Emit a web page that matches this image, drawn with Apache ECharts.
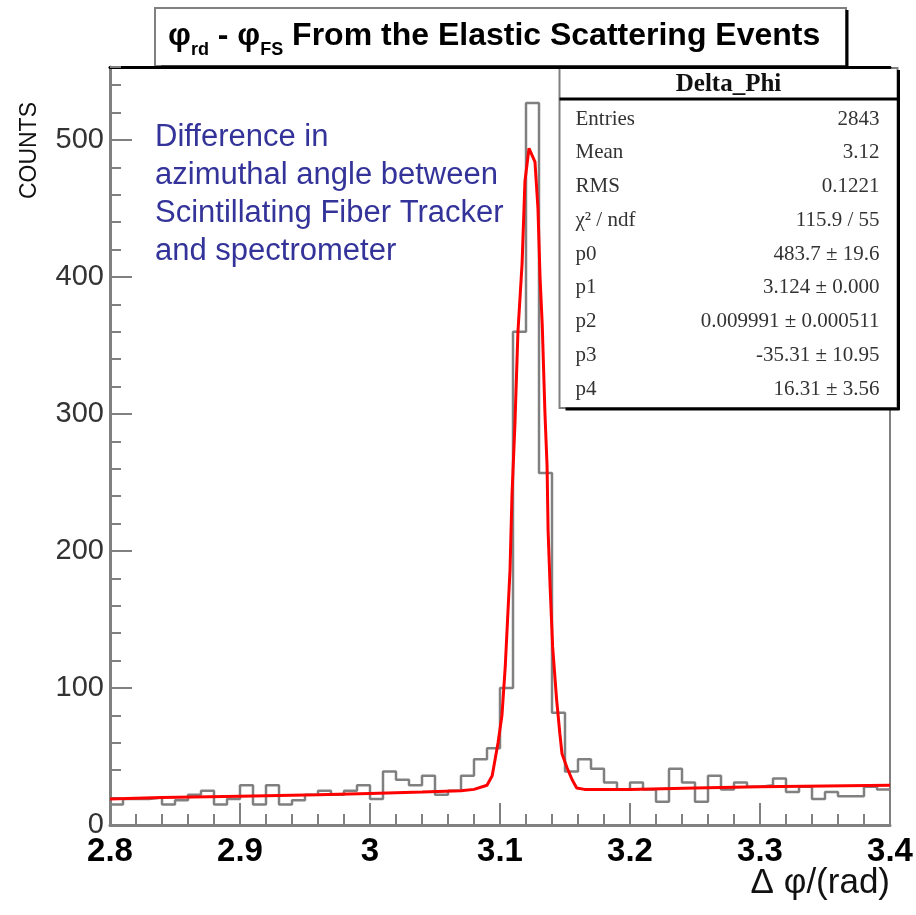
<!DOCTYPE html>
<html>
<head>
<meta charset="utf-8">
<title>Delta_Phi</title>
<script src="https://cdn.jsdelivr.net/npm/echarts@6/dist/echarts.min.js"></script>
<style>
  html, body { margin: 0; padding: 0; background: #fff; }
  #chart { width: 916px; height: 915px; }
</style>
</head>
<body>
<div id="chart"></div>
<script>
// Delta_Phi histogram: 60 bins of 0.01 rad between 2.80 and 3.40
const xMin = 2.8;
const xMax = 3.4;
const binWidth = 0.01;
const counts = [
  15, 19, 19, 20, 15, 18, 22, 25, 15, 19,
  29, 15, 29, 15, 18, 22, 25, 22, 25, 29,
  19, 39, 33, 29, 36, 22, 25, 36, 48, 56,
  100, 360, 527, 257, 82, 39, 48, 41, 31, 26,
  31, 26, 17, 41, 31, 17, 36, 26, 31, 28,
  29, 34, 24, 28, 19, 24, 21, 21, 28, 26
];

// Fitted curve (gaussian peak on a linear background), sampled points
const fitX = [2.80, 2.84, 2.90, 2.96, 3.00, 3.04, 3.07, 3.08, 3.09, 3.094, 3.0985, 3.1015,
  3.104, 3.1077, 3.1092, 3.1115, 3.1138, 3.117, 3.1192, 3.1223, 3.1269, 3.1292, 3.1308,
  3.1325, 3.1346, 3.1362, 3.137, 3.1385, 3.1405, 3.1435, 3.146, 3.1477, 3.1515, 3.1555,
  3.159, 3.165, 3.20, 3.25, 3.30, 3.35, 3.40];
const fitY = [19, 20, 21, 22, 23, 24, 25, 26, 29, 36, 60, 80,
  115, 186, 240, 293, 360, 410, 470, 494, 484, 450, 400,
  365, 300, 262, 215, 175, 130, 92, 67, 52, 42, 33,
  27, 26, 26, 27, 28, 28.5, 29];

const yMax = 553.3;
const xLabelStep = 0.1;
const yLabelStep = 100;
const yMinorStep = 20;

// Statistics box
const statsTitle = 'Delta_Phi';
const statsLabels = ['Entries', 'Mean', 'RMS', 'χ² / ndf', 'p0', 'p1', 'p2', 'p3', 'p4'];
const statsValues = ['2843', '3.12', '0.1221', '115.9 / 55', '483.7 ± 19.6', '3.124 ± 0.000',
  '0.009991 ± 0.000511', '-35.31 ± 10.95', '16.31 ± 3.56'];

const noteLines = ['Difference in', 'azimuthal angle between', 'Scintillating Fiber Tracker', 'and spectrometer'];

const SANS = '"Liberation Sans", Arial, Helvetica, sans-serif';
const SERIF = '"Liberation Serif", "Times New Roman", serif';
const GRAY = '#808080';

// step outline: each bin drawn from its low edge to the next edge
const histData = counts.map((c, i) => [+(xMin + i * binWidth).toFixed(2), c]);
histData.push([xMax, counts[counts.length - 1]]);
const fitData = fitX.map((x, i) => [x, fitY[i]]);

// framed box: light border with a dark drop edge on the right and bottom
function boxPieces(w, h) {
  return [
    { type: 'rect', shape: { x: 0, y: 0, width: w, height: h },
      style: { fill: '#fff', stroke: GRAY, lineWidth: 2 } },
    { type: 'line', shape: { x1: w + 1, y1: 2, x2: w + 1, y2: h + 2 }, style: { stroke: '#000', lineWidth: 3 } },
    { type: 'line', shape: { x1: 6, y1: h + 1, x2: w + 2, y2: h + 1 }, style: { stroke: '#000', lineWidth: 3 } }
  ];
}

// stats box pieces
const boxW = 338, boxH = 340, headH = 31, rowTop = 51, rowStep = 33.75;
const statsChildren = boxPieces(boxW, boxH).concat([
  { type: 'line', shape: { x1: 0, y1: headH, x2: boxW, y2: headH }, style: { stroke: '#000', lineWidth: 3 } },
  { type: 'text', x: boxW / 2, y: headH / 2 + 1,
    style: { text: statsTitle, font: 'bold 25px ' + SERIF, fill: '#111', align: 'center', verticalAlign: 'middle' } }
]);
statsLabels.forEach((lab, i) => {
  const y = rowTop + i * rowStep;
  statsChildren.push({ type: 'text', x: 16, y: y,
    style: { text: lab, font: '21px ' + SERIF, fill: '#333', align: 'left', verticalAlign: 'middle' } });
  statsChildren.push({ type: 'text', x: boxW - 18, y: y,
    style: { text: statsValues[i], font: '21px ' + SERIF, fill: '#333', align: 'right', verticalAlign: 'middle' } });
});

const chart = echarts.init(document.getElementById('chart'), null, { renderer: 'canvas' });

chart.setOption({
  backgroundColor: '#fff',
  animation: false,
  title: [
    {
      text: '{p|φ}{s|rd}{p| - φ}{s|FS}{p| From the Elastic Scattering Events}',
      left: 154, top: 7,
      padding: [6, 12, 6, 14],
      textStyle: {
        rich: {
          p: { fontFamily: SANS, fontWeight: 'bold', fontSize: 32, color: '#000', lineHeight: 46 },
          s: { fontFamily: SANS, fontWeight: 'bold', fontSize: 18, color: '#000', lineHeight: 20, verticalAlign: 'bottom' }
        }
      },
      z: 10
    },
    {
      text: noteLines.join('\n'),
      left: 155, top: 118, padding: 0,
      textStyle: { fontFamily: SANS, fontWeight: 'normal', fontSize: 31, color: '#333399', lineHeight: 38 }
    }
  ],
  grid: { left: 110, right: 26, top: 67, bottom: 90, show: true, borderColor: GRAY, borderWidth: 2, outerBoundsMode: 'none' },
  xAxis: [
    {
      type: 'value', min: xMin, max: xMax, interval: xLabelStep,
      axisLine: { show: true, onZero: false, lineStyle: { color: GRAY, width: 3 } },
      axisTick: { show: true, inside: true, length: 22, lineStyle: { color: GRAY, width: 2 } },
      minorTick: { show: true, splitNumber: 5, length: 11, lineStyle: { color: GRAY, width: 2 } },
      splitLine: { show: false },
      axisLabel: { margin: 10, fontFamily: SANS, fontWeight: 'bold', fontSize: 33, color: '#000' }
    },
    {
      type: 'value', position: 'top', min: xMin, max: xMax,
      axisLine: { show: true, onZero: false, lineStyle: { color: '#000', width: 3 } },
      axisTick: { show: false }, axisLabel: { show: false }, splitLine: { show: false }
    }
  ],
  yAxis: [
    {
      type: 'value', min: 0, max: yMax, interval: yLabelStep, position: 'left',
      axisLine: { show: true, lineStyle: { color: GRAY, width: 3 } },
      axisTick: { show: true, inside: true, length: 22, lineStyle: { color: GRAY, width: 2 } },
      splitLine: { show: false },
      axisLabel: { margin: 6, showMaxLabel: false, fontFamily: SANS, fontSize: 29, color: '#333' }
    },
    {
      type: 'value', min: 0, max: yMax, interval: yMinorStep, position: 'left',
      axisLine: { show: false },
      axisTick: { show: true, inside: true, length: 11, lineStyle: { color: GRAY, width: 2 } },
      axisLabel: { show: false }, splitLine: { show: false }
    }
  ],
  graphic: [
    { type: 'group', left: 154, top: 7, z: 5, children: boxPieces(691, 58) },
    { type: 'group', left: 557, top: 67, children: statsChildren },
    { type: 'text', left: 18, top: 102, rotation: Math.PI / 2,
      style: { text: 'COUNTS', font: '23px ' + SANS, fill: '#111' } },
    { type: 'text', right: 26, top: 866,
      style: { text: 'Δ φ/(rad)', font: '35px ' + SANS, fill: '#111' } }
  ],
  series: [
    {
      name: 'Delta_Phi', type: 'line', step: 'end', data: histData,
      xAxisIndex: 0, yAxisIndex: 0, symbol: 'none', silent: true,
      lineStyle: { color: GRAY, width: 2.5 }, z: 2
    },
    {
      name: 'fit', type: 'line', data: fitData,
      xAxisIndex: 0, yAxisIndex: 0, symbol: 'none', silent: true, smooth: false,
      lineStyle: { color: '#ff0000', width: 3 }, z: 3
    }
  ]
});
</script>
</body>
</html>
